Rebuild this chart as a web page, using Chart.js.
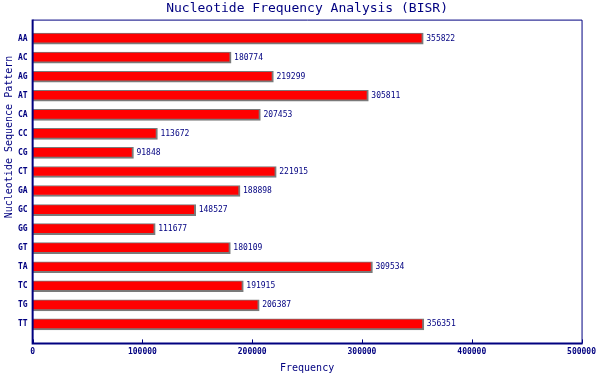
<!DOCTYPE html>
<html>
<head>
<meta charset="utf-8">
<script src="https://cdn.jsdelivr.net/npm/chart.js@4.4.0/dist/chart.umd.min.js"></script>
<style>
    html, body { margin: 0; padding: 0; background: #fff; }
    #wrap { width: 600px; height: 380px; }
</style>
</head>
<body>
<div id="wrap"><canvas id="freqChart"></canvas></div>
<script>
// Данные
const categories = ['AA', 'AC', 'AG', 'AT', 'CA', 'CC', 'CG', 'CT', 'GA', 'GC', 'GG', 'GT', 'TA', 'TC', 'TG', 'TT'];
const frequencies = [355822, 180774, 219299, 305811, 207453, 113672, 91848, 221915, 188898, 148527, 111677, 180109, 309534, 191915, 206387, 356351];
const xTickValues = [0, 100000, 200000, 300000, 400000, 500000];

const NAVY = '#000080';
const MONO = '"DejaVu Sans Mono", "Liberation Mono", monospace';

// Рамка, засечки снизу, подписи значений и вертикальный заголовок оси
const extrasPlugin = {
    id: 'extras',
    afterDraw(chart) {
        const ctx = chart.ctx;
        const a = chart.chartArea;
        const xs = chart.scales.x;
        ctx.save();

        // рамка
        ctx.strokeStyle = NAVY;
        ctx.lineWidth = 1;
        ctx.beginPath();
        ctx.moveTo(a.left, a.top + 0.5);
        ctx.lineTo(a.right + 0.5, a.top + 0.5);
        ctx.lineTo(a.right + 0.5, a.bottom);
        ctx.stroke();
        ctx.lineWidth = 2;
        ctx.beginPath();
        ctx.moveTo(a.left, a.top);
        ctx.lineTo(a.left, a.bottom);
        ctx.lineTo(a.right + 1, a.bottom);
        ctx.stroke();

        // засечки внутрь
        ctx.lineWidth = 1;
        xTickValues.forEach(v => {
            const px = Math.round(xs.getPixelForValue(v)) + 0.5;
            ctx.beginPath();
            ctx.moveTo(px, a.bottom);
            ctx.lineTo(px, a.bottom - 4);
            ctx.stroke();
        });

        // подписи значений у концов столбцов
        ctx.fillStyle = NAVY;
        ctx.font = '8px ' + MONO;
        ctx.textAlign = 'left';
        ctx.textBaseline = 'middle';
        chart.getDatasetMeta(0).data.forEach((bar, i) => {
            ctx.fillText(String(frequencies[i]), bar.x + 3, bar.y);
        });

        // заголовок оси Y
        ctx.font = '10px ' + MONO;
        ctx.textAlign = 'center';
        ctx.translate(9, 137);
        ctx.rotate(-Math.PI / 2);
        ctx.fillText('Nucleotide Sequence Pattern', 0, 0);
        ctx.restore();
    }
};

new Chart(document.getElementById('freqChart'), {
    type: 'bar',
    data: {
        datasets: [{
            data: frequencies.map((v, i) => ({ x: v, y: i })),
            backgroundColor: '#ff0000',
            borderColor: '#7a7a7a',
            borderWidth: { top: 1, right: 2, bottom: 2, left: 0 },
            borderSkipped: false,
            barThickness: 11
        }]
    },
    options: {
        indexAxis: 'y',
        responsive: true,
        maintainAspectRatio: false,
        animation: false,
        devicePixelRatio: 1,
        layout: { padding: { left: 13, right: 14, top: 0, bottom: 6 } },
        plugins: {
            legend: { display: false },
            tooltip: { enabled: false },
            title: {
                display: true,
                text: 'Nucleotide Frequency Analysis (BISR)',
                color: NAVY,
                fullSize: false,
                font: { family: MONO, size: 13, weight: 'normal' },
                padding: { top: 1, bottom: 3 }
            }
        },
        scales: {
            x: {
                type: 'linear',
                min: 0,
                max: 500000,
                grid: { display: false, drawTicks: false },
                border: { display: false },
                ticks: {
                    stepSize: 100000,
                    color: NAVY,
                    padding: 4,
                    font: { family: MONO, size: 8, weight: 'bold' },
                    callback: v => String(v)
                },
                title: {
                    display: true,
                    text: 'Frequency',
                    color: NAVY,
                    font: { family: MONO, size: 10 },
                    padding: { top: 1, bottom: 0 }
                }
            },
            y: {
                type: 'linear',
                min: -1,
                max: 16,
                reverse: true,
                offset: false,
                grid: { display: false, drawTicks: false, offset: false },
                border: { display: false },
                ticks: {
                    stepSize: 1,
                    autoSkip: false,
                    color: NAVY,
                    padding: 5,
                    font: { family: MONO, size: 8, weight: 'bold' },
                    callback: v => categories[v] || ''
                }
            }
        }
    },
    plugins: [extrasPlugin]
});
</script>
</body>
</html>
